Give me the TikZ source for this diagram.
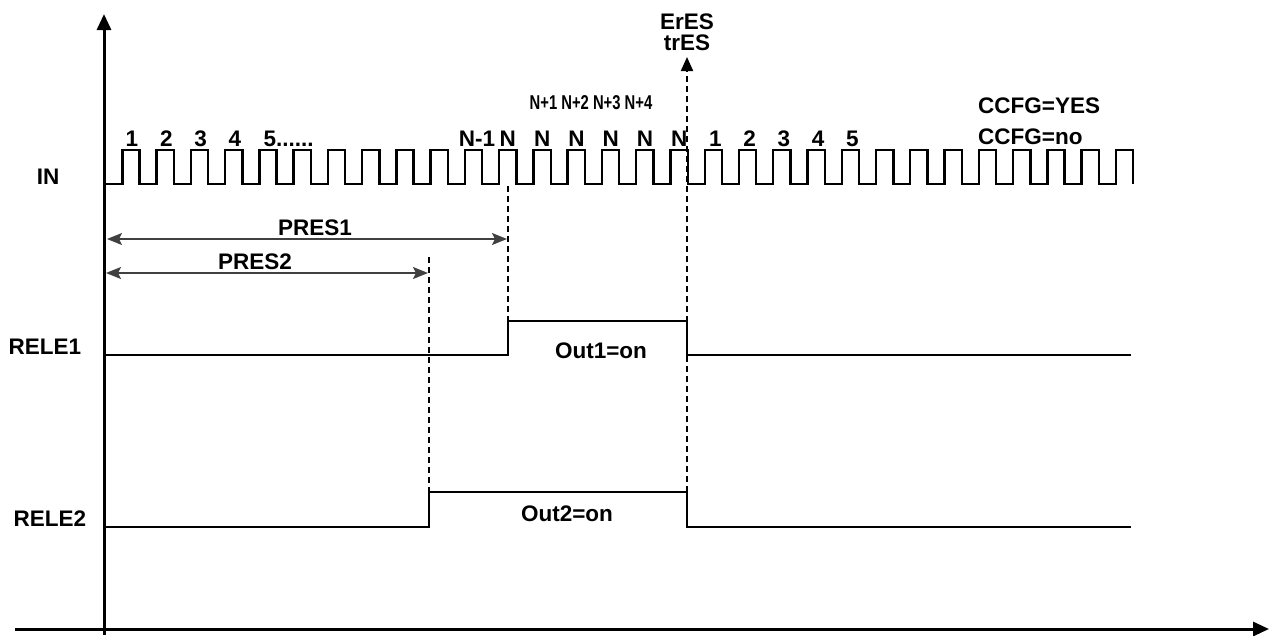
\documentclass[tikz,border=0pt]{standalone}
\usepackage{fontspec}
\setmainfont{Liberation Sans}
\usetikzlibrary{arrows.meta}
\begin{document}
\begin{tikzpicture}[x=1pt,y=-1pt,
  lbl/.style={inner sep=0pt,font=\fontsize{22.5}{24}\selectfont\bfseries},
  small/.style={inner sep=0pt,font=\fontsize{20}{22}\selectfont\bfseries},
  axis/.style={line width=3pt,-{Triangle[length=16pt,width=14pt]}},
  sig/.style={line width=2.4pt,line join=miter},
  dsh/.style={line width=2pt,dash pattern=on 6pt off 4pt},
  dim/.style={line width=1.6pt,black!75,{Stealth[length=15pt,width=12pt,inset=3pt]}-{Stealth[length=15pt,width=12pt,inset=3pt]}}]
\useasboundingbox (0,0) rectangle (1271,635);
% axes
\coordinate (ybot) at (104,635);
\coordinate (ytop) at (104,14);
\coordinate (xl) at (15,629);
\coordinate (xr) at (1269,629);
\draw[axis] (ybot) -- (ytop);
\draw[axis] (xl) -- (xr);
% pulse train
\draw[sig] (104,184)
  \foreach \k in {0,...,29}{ -- ({122.3+\k*34.26},184) -- ++(0,-34) -- ++(17.3,0) -- ++(0,34) };
% pulse labels
\foreach \t [count=\i from 0] in {1,2,3,4}
  \node[lbl] (a\i) at ({132+\i*34.26},139) {\t};
\node[lbl,anchor=west] (a4) at (263.5,139) {5......};
\node[lbl] (nm1) at (477,139) {N-1};
\foreach \i in {11,...,16}
  \node[lbl] (n\i) at ({131+\i*34.26},139) {N};
\foreach \t [count=\i from 17] in {1,2,3,4,5}
  \node[lbl] (b\i) at ({133+\i*34.26},139) {\t};
\node[small] (nplus) at (591,103) {\scalebox{0.74}[1]{N+1 N+2 N+3 N+4}};
\node[lbl,anchor=west] (cyes) at (978,106) {CCFG=YES};
\node[lbl,anchor=west] (cno) at (978,137) {CCFG=no};
% left labels
\node[lbl] (in) at (48,177) {IN};
\node[lbl] (r1) at (45,347) {RELE1};
\node[lbl] (r2) at (50,519) {RELE2};
% event coordinates
\coordinate (e1top) at (508,186);
\coordinate (e1bot) at (508,321);
\coordinate (e2top) at (429,257);
\coordinate (e2bot) at (429,492);
\coordinate (e3top) at (687,57);
\coordinate (e3bot) at (687,492);
\node[lbl,align=center,font=\fontsize{22.5}{21}\selectfont\bfseries] (eres) at (687,32) {ErES\\trES};
% relays
\draw[sig] (104,355) -- (508,355) -- (508,321) -- (687,321) -- (687,355) -- (1131,355);
\draw[sig] (104,527) -- (429,527) -- (429,492) -- (687,492) -- (687,527) -- (1131,527);
\node[lbl] (o1) at (601,351) {Out1=on};
\node[lbl] (o2) at (567,514) {Out2=on};
% dashed markers
\draw[dsh] (e1top) -- (e1bot);
\draw[dsh] (e2top) -- (e2bot);
\draw[dsh,-{Triangle[length=14pt,width=12pt]}] (e3bot) -- (e3top);
% PRES dimensions
\coordinate (p1l) at (107,239);
\coordinate (p1r) at (507,239);
\coordinate (p2l) at (106,273);
\coordinate (p2r) at (428,273);
\draw[dim] (p1l) -- (p1r);
\draw[dim] (p2l) -- (p2r);
\node[lbl] (pres1) at (315,228) {PRES1};
\node[lbl] (pres2) at (255,262) {PRES2};
\end{tikzpicture}
\end{document}
